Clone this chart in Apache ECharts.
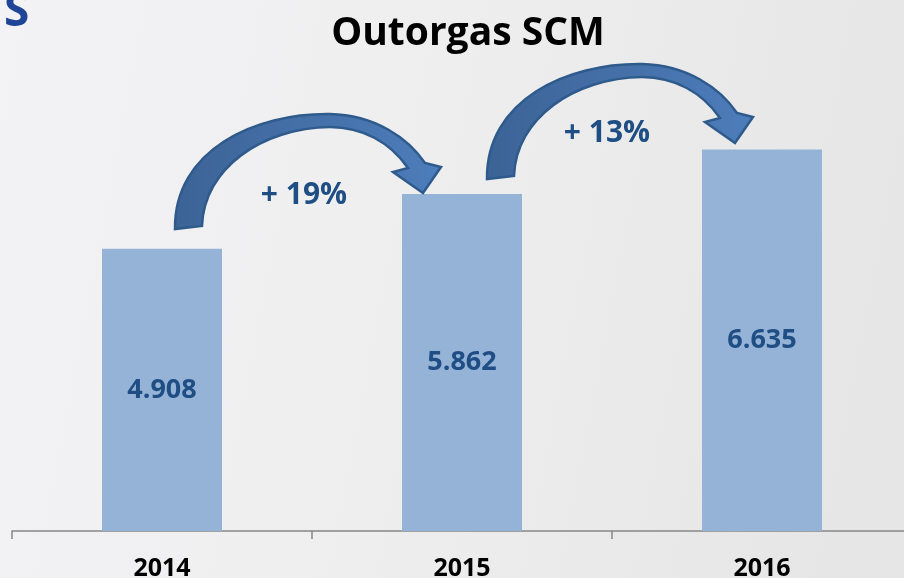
<!DOCTYPE html>
<html>
<head>
<meta charset="utf-8">
<script src="https://cdn.jsdelivr.net/npm/echarts@6/dist/echarts.min.js"></script>
<style>
html,body{margin:0;padding:0;}
#c{width:904px;height:578px;}
</style>
</head>
<body>
<div id="c"></div>
<script>
var categories = ['2014', '2015', '2016'];
var values = [4908, 5862, 6635];
var valueLabels = ['4.908', '5.862', '6.635'];
var growthLabels = ['+ 19%', '+ 13%'];
var titleText = 'Outorgas SCM';

var arrowPath = 'M 175 229 C 174 150 255 113 330 114 C 375 115 408 138 425 163 L 441 167 L 423 193 L 393 172 L 408 168 C 390 142 362 127 330 127 C 262 128 204 168 202 226 Z';
echarts.graphic.registerShape('curvedArrow', echarts.graphic.extendPath(arrowPath, {}));

var chart = echarts.init(document.getElementById('c'));

function arrow(dx, dy) {
  return {
    type: 'curvedArrow',
    x: dx, y: dy,
    style: {
      fill: { type: 'linear', x: 0, y: 0, x2: 1, y2: 0, colorStops: [
        { offset: 0, color: '#3c6396' }, { offset: 1, color: '#4d7dbb' }] },
      stroke: '#2f5a8c', lineWidth: 2.5
    },
    z: 10
  };
}

chart.setOption({
  backgroundColor: {
    type: 'linear', x: 0, y: 0, x2: 1, y2: 0.3,
    colorStops: [{ offset: 0, color: '#f3f3f5' }, { offset: 0.5, color: '#eeeeef' }, { offset: 1, color: '#e6e6e7' }]
  },
  title: {
    text: titleText,
    left: 463, top: 9, textAlign: 'center',
    textStyle: { fontFamily: 'Open Sans', fontWeight: 'bold', fontSize: 39, color: '#000' }
  },
  grid: { left: 12, right: -8, top: 71, bottom: 47, outerBoundsMode: 'none', containLabel: false },
  xAxis: {
    type: 'category',
    data: categories,
    axisLine: { lineStyle: { color: '#878787', width: 1.5 } },
    axisTick: { show: true, length: 8, lineStyle: { color: '#878787', width: 1.5 } },
    axisLabel: { margin: 25, fontFamily: 'Open Sans', fontWeight: 'bold', fontSize: 25, color: '#000' }
  },
  yAxis: { type: 'value', min: 0, max: 8000, show: false, splitLine: { show: false } },
  series: [{
    type: 'bar',
    data: values,
    barWidth: '40%',
    itemStyle: { color: '#95b3d7' },
    label: {
      show: true, position: 'inside',
      formatter: function (p) { return valueLabels[p.dataIndex]; },
      fontFamily: 'Open Sans', fontWeight: 'bold', fontSize: 27, color: '#1f4e85'
    }
  }],
  graphic: [
    { type: 'text', x: 4, y: 13, style: { text: 'S', fontFamily: 'Open Sans', fontWeight: 'bold', fontSize: 46, fill: '#1f4597', verticalAlign: 'middle' } },
    arrow(0, 0),
    arrow(312, -50),
    { type: 'text', x: 304, y: 195, style: { text: growthLabels[0], fontFamily: 'Open Sans', fontWeight: 'bold', fontSize: 30, fill: '#1f4e85', align: 'center', verticalAlign: 'middle' }, z: 11 },
    { type: 'text', x: 607, y: 133, style: { text: growthLabels[1], fontFamily: 'Open Sans', fontWeight: 'bold', fontSize: 30, fill: '#1f4e85', align: 'center', verticalAlign: 'middle' }, z: 11 }
  ]
});
</script>
</body>
</html>
